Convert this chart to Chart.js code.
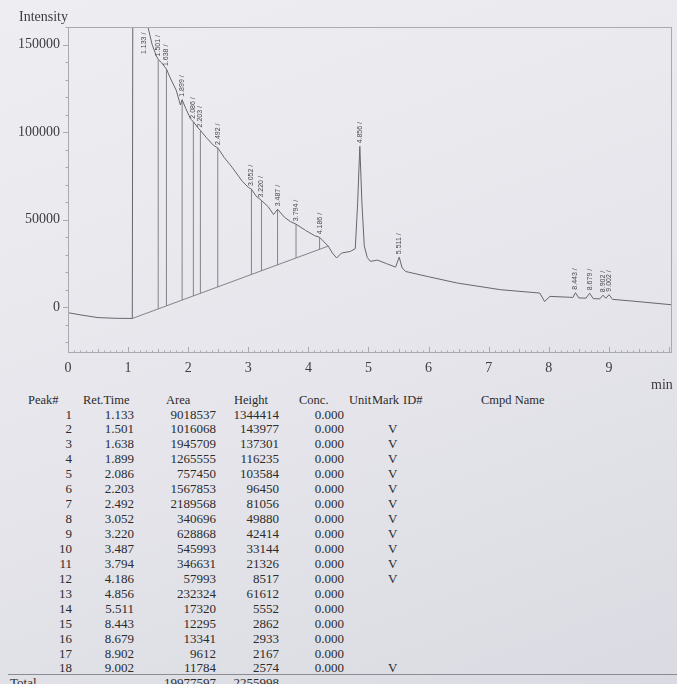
<!DOCTYPE html>
<html>
<head>
<meta charset="utf-8">
<script src="https://cdn.jsdelivr.net/npm/chart.js@4.4.1/dist/chart.umd.min.js"></script>
<style>
  body {
    margin: 0;
    width: 677px;
    height: 684px;
    overflow: hidden;
    position: relative;
    background: linear-gradient(160deg, #eeeef2 0%, #e5e5eb 55%, #dadae2 100%);
    font-family: "Liberation Serif", serif;
    color: #2b2b2b;
  }
  #chrom { position: absolute; left: 0; top: 0; }
  .lbl { position: absolute; font-size: 14px; color: #3c3c40; white-space: nowrap; }
  .t { position: absolute; font-size: 13px; line-height: 15px; white-space: nowrap; }
  .h { font-size: 12.5px; }
  .r { text-align: right; }
  #rule { position: absolute; left: 8px; top: 674px; width: 669px; height: 1px; background: #8c8c94; }
</style>
</head>
<body>
<canvas id="chrom" width="677" height="392"></canvas>
<div class="lbl" style="left:19px;top:9px;">Intensity</div>
<div class="lbl" style="left:651px;top:377px;">min</div>
<div id="table"></div>
<div id="rule"></div>

<script>
// chromatogram trace (min, intensity)
const traceTimes = [0, 0.25, 0.5, 0.8, 1.07, 1.133, 1.2, 1.28, 1.33, 1.4, 1.47, 1.501, 1.56, 1.638, 1.7, 1.8, 1.85, 1.87, 1.899,
  1.96, 2.04, 2.086, 2.15, 2.203, 2.3, 2.42, 2.492, 2.6, 2.73, 2.9, 3.0, 3.052, 3.13, 3.22, 3.33, 3.42, 3.487, 3.6, 3.7, 3.794,
  3.95, 4.1, 4.186, 4.33, 4.4, 4.47, 4.55, 4.7, 4.78, 4.82, 4.856, 4.89, 4.93, 4.98, 5.03, 5.15, 5.3, 5.45, 5.511, 5.56, 5.62,
  6.0, 6.48, 7.2, 7.85, 7.93, 8.02, 8.35, 8.4, 8.443, 8.5, 8.62, 8.679, 8.74, 8.85, 8.902, 8.95, 9.002, 9.06, 9.4, 10.05];
const traceValues = [-3000, -4500, -5800, -6200, -6300, 1338900, 420000, 200000, 160000, 150000, 143500, 141500, 139500, 136000, 131000, 124000, 118000, 115500, 118500,
  113500, 107500, 106000, 103000, 101000, 97000, 92500, 91000, 85500, 80000, 72000, 68500, 67500, 63500, 61000, 57500, 53000, 56000, 51500, 49000, 47500,
  44000, 41000, 40000, 35000, 31000, 28200, 31000, 32000, 33500, 60000, 91900, 60000, 35000, 28500, 26300, 27000, 25000, 23000, 28700, 22500, 20500,
  17500, 13900, 10100, 8200, 3400, 6300, 5800, 5600, 8400, 5400, 5300, 8100, 5000, 4900, 7000, 5200, 7300, 4600, 3600, 1500];

// integration baseline under the solvent tail
const baseTimes = [1.07, 4.33];
const baseValues = [-6300, 35000];

// peak table
const peakNo = [1, 2, 3, 4, 5, 6, 7, 8, 9, 10, 11, 12, 13, 14, 15, 16, 17, 18];
const retTimes = [1.133, 1.501, 1.638, 1.899, 2.086, 2.203, 2.492, 3.052, 3.220, 3.487, 3.794, 4.186, 4.856, 5.511, 8.443, 8.679, 8.902, 9.002];
const areas = [9018537, 1016068, 1945709, 1265555, 757450, 1567853, 2189568, 340696, 628868, 545993, 346631, 57993, 232324, 17320, 12295, 13341, 9612, 11784];
const heights = [1344414, 143977, 137301, 116235, 103584, 96450, 81056, 49880, 42414, 33144, 21326, 8517, 61612, 5552, 2862, 2933, 2167, 2574];
const conc = [0, 0, 0, 0, 0, 0, 0, 0, 0, 0, 0, 0, 0, 0, 0, 0, 0, 0];
const marks = ['', 'V', 'V', 'V', 'V', 'V', 'V', 'V', 'V', 'V', 'V', 'V', '', '', '', '', '', 'V'];
const dropPeaks = [2, 3, 4, 5, 6, 7, 8, 9, 10, 11, 12];

const xTickValues = [0, 1, 2, 3, 4, 5, 6, 7, 8, 9];
const yTickValues = [0, 50000, 100000, 150000];

function baseAt(t) {
  const f = (t - baseTimes[0]) / (baseTimes[1] - baseTimes[0]);
  return baseValues[0] + f * (baseValues[1] - baseValues[0]);
}
function apexOf(t) {
  return traceValues[traceTimes.indexOf(t)];
}

const dropData = [];
dropPeaks.forEach(n => {
  const t = retTimes[n - 1];
  dropData.push({ x: t, y: baseAt(t) }, { x: t, y: apexOf(t) }, { x: t, y: null });
});

// frame, minor ticks and peak labels
const extras = {
  id: 'extras',
  afterDatasetsDraw(chart) {
    const { ctx, chartArea: a, scales: { x, y } } = chart;
    ctx.save();
    ctx.strokeStyle = '#a9a9b0';
    ctx.lineWidth = 1;
    ctx.strokeRect(a.left + 0.5, a.top + 0.5, a.right - a.left - 1, a.bottom - a.top - 1);

    ctx.beginPath();
    for (let k = 0; k <= 100; k++) {
      const px = Math.round(x.getPixelForValue(k / 10)) + 0.5;
      if (px > a.right) break;
      const len = k % 10 === 0 ? 6 : (k % 5 === 0 ? 4 : 2.5);
      ctx.moveTo(px, a.bottom);
      ctx.lineTo(px, a.bottom - len);
    }
    for (let v = -20000; v <= 160000; v += 10000) {
      const py = Math.round(y.getPixelForValue(v)) + 0.5;
      const len = yTickValues.includes(v) ? 5 : 2.5;
      ctx.moveTo(a.left, py);
      ctx.lineTo(a.left - len, py);
    }
    ctx.stroke();

    ctx.fillStyle = '#48484e';
    ctx.font = '7px "Liberation Sans"';
    ctx.textAlign = 'left';
    ctx.textBaseline = 'middle';
    retTimes.forEach(t => {
      const top = y.getPixelForValue(apexOf(t));
      const offScale = top < a.top + 30;
      // off-scale apex: label sits beside the rising edge, below the frame
      const px = x.getPixelForValue(t) + (offScale ? 8 : 0);
      const py = (offScale ? a.top + 30 : top) - 3;
      ctx.save();
      ctx.translate(px, py);
      ctx.rotate(-Math.PI / 2);
      ctx.fillText(t.toFixed(3) + ' /', 0, 0);
      ctx.restore();
    });
    ctx.restore();
  }
};

const ctx = document.getElementById('chrom').getContext('2d');
new Chart(ctx, {
  type: 'line',
  data: {
    datasets: [
      {
        data: traceTimes.map((t, i) => ({ x: t, y: traceValues[i] })),
        borderColor: '#66666c', borderWidth: 1, pointRadius: 0, tension: 0
      },
      {
        data: baseTimes.map((t, i) => ({ x: t, y: baseValues[i] })),
        borderColor: '#77777d', borderWidth: 0.9, pointRadius: 0
      },
      {
        data: dropData,
        borderColor: '#77777d', borderWidth: 0.9, pointRadius: 0, spanGaps: false
      }
    ]
  },
  options: {
    responsive: false,
    animation: false,
    layout: { padding: { top: 27, right: 5, left: 0, bottom: 0 } },
    plugins: { legend: { display: false }, tooltip: { enabled: false } },
    scales: {
      x: {
        type: 'linear', min: 0, max: 10.05,
        afterBuildTicks: s => { s.ticks = xTickValues.map(v => ({ value: v })); },
        afterFit: s => { s.height = 39; },
        ticks: { autoSkip: false, maxRotation: 0, padding: 7, color: '#3c3c40',
          font: { family: 'Liberation Serif', size: 14 }, callback: v => String(v) },
        grid: { display: false, drawTicks: false },
        border: { display: false }
      },
      y: {
        min: -26000, max: 160000,
        afterBuildTicks: s => { s.ticks = yTickValues.map(v => ({ value: v })); },
        afterFit: s => { s.width = 68; },
        ticks: { padding: 8, color: '#3c3c40',
          font: { family: 'Liberation Serif', size: 14 }, callback: v => String(v) },
        grid: { display: false, drawTicks: false },
        border: { display: false }
      }
    }
  },
  plugins: [extras]
});

// peak table below the chart
const table = document.getElementById('table');
function cell(text, left, right, top, cls) {
  const d = document.createElement('div');
  d.className = 't';
  if (cls) d.classList.add(cls);
  d.textContent = text;
  if (right !== null) { d.classList.add('r'); d.style.right = (677 - right) + 'px'; }
  else d.style.left = left + 'px';
  d.style.top = (top - 7.5) + 'px';
  table.appendChild(d);
}
const headY = 400;
[['Peak#', 28], ['Ret.Time', 83], ['Area', 166], ['Height', 234], ['Conc.', 299],
 ['Unit', 349], ['Mark', 372], ['ID#', 403], ['Cmpd Name', 481]].forEach(h => cell(h[0], h[1], null, headY, 'h'));
peakNo.forEach((n, i) => {
  const ry = 414 + i * 14.94;
  cell(String(n), 0, 72, ry);
  cell(retTimes[i].toFixed(3), 0, 134, ry);
  cell(String(areas[i]), 0, 216, ry);
  cell(String(heights[i]), 0, 279, ry);
  cell(conc[i].toFixed(3), 0, 344, ry);
  if (marks[i]) cell(marks[i], 388, null, ry);
});
const totalY = 414 + 18 * 14.94;
cell('Total', 10, null, totalY);
cell(String(areas.reduce((s, v) => s + v, 0)), 0, 216, totalY);
cell(String(heights.reduce((s, v) => s + v, 0)), 0, 279, totalY);
</script>
</body>
</html>
